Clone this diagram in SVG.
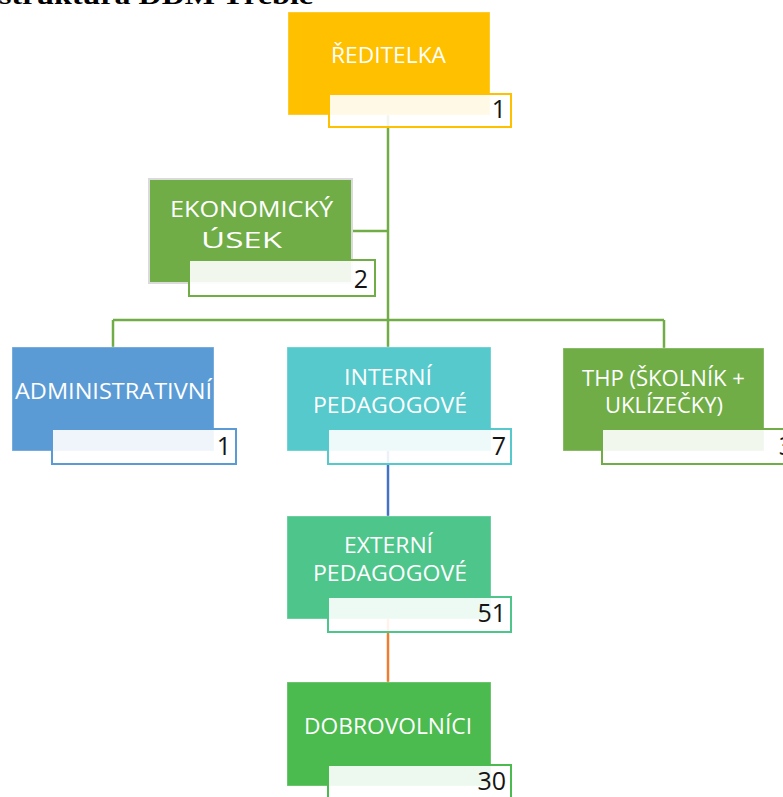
<svg xmlns="http://www.w3.org/2000/svg" width="783" height="797" viewBox="0 0 783 797">
<style>
.title{font-family:"Liberation Serif","Times New Roman",serif;font-weight:bold;font-size:26px;fill:#000}
.lbl{font-family:"Open Sans","Noto Sans",sans-serif;font-size:22px;fill:#fff}
.cnt{font-family:"Open Sans","Noto Sans",sans-serif;font-size:25px;fill:#151515;text-anchor:end}
.cbox{fill:#fff;fill-opacity:0.9;stroke-width:2}
.node{stroke:#fff;stroke-opacity:0.35;stroke-width:1}
.conn{fill:none;stroke-width:2.5}
</style>
<rect width="783" height="797" fill="#fff"/>
<text class="title" x="-1" y="4" textLength="314" lengthAdjust="spacingAndGlyphs">struktura DDM Třebíč</text>
<g id="connectors">
<path class="conn" stroke="#70AD47" d="M388 115V347M353 231H388M113 320H664M113 320V347M664 320V348"/>
<path class="conn" stroke="#4472C4" d="M388 451V516"/>
<path class="conn" stroke="#ED7D31" d="M388 619V682"/>
</g>
<g id="reditelka">
<rect class="node" x="288" y="12" width="202" height="103" fill="#FFC000"/>
<text class="lbl" x="331" y="63" textLength="115" lengthAdjust="spacingAndGlyphs">ŘEDITELKA</text>
<rect class="cbox" x="329" y="94" width="182" height="33" stroke="#FFC000"/>
<text class="cnt" x="506" y="118">1</text>
</g>
<g id="ekonomicky">
<rect x="149" y="179" width="203" height="104" fill="#70AD47" stroke="#DADADA" stroke-width="2"/>
<text class="lbl" x="170" y="216.5" textLength="163" lengthAdjust="spacingAndGlyphs">EKONOMICKÝ</text>
<text class="lbl" x="201" y="248" textLength="81" lengthAdjust="spacingAndGlyphs">ÚSEK</text>
<rect class="cbox" x="189" y="260" width="186" height="36" stroke="#70AD47"/>
<text class="cnt" x="368" y="288">2</text>
</g>
<g id="administrativni">
<rect class="node" x="12" y="347" width="202" height="104" fill="#5B9BD5"/>
<text class="lbl" x="15" y="399" textLength="197" lengthAdjust="spacingAndGlyphs">ADMINISTRATIVNÍ</text>
<rect class="cbox" x="52" y="429" width="184" height="35" stroke="#5B9BD5"/>
<text class="cnt" x="231" y="455">1</text>
</g>
<g id="interni">
<rect class="node" x="287" y="347" width="204" height="104" fill="#55C9CC"/>
<text class="lbl" x="344" y="385" textLength="88" lengthAdjust="spacingAndGlyphs">INTERNÍ</text>
<text class="lbl" x="313" y="413" textLength="154" lengthAdjust="spacingAndGlyphs">PEDAGOGOVÉ</text>
<rect class="cbox" x="328" y="429" width="183" height="35" stroke="#55C9CC"/>
<text class="cnt" x="506" y="455">7</text>
</g>
<g id="thp">
<rect class="node" x="563" y="348" width="201" height="103" fill="#70AD47"/>
<text class="lbl" x="582" y="386" textLength="163" lengthAdjust="spacingAndGlyphs">THP (ŠKOLNÍK +</text>
<text class="lbl" x="605" y="413" textLength="118" lengthAdjust="spacingAndGlyphs">UKLÍZEČKY)</text>
<rect class="cbox" x="602" y="429" width="184" height="35" stroke="#70AD47"/>
<text class="cnt" x="793" y="455">3</text>
</g>
<g id="externi">
<rect class="node" x="287" y="516" width="204" height="103" fill="#4EC58B"/>
<text class="lbl" x="344" y="553" textLength="89" lengthAdjust="spacingAndGlyphs">EXTERNÍ</text>
<text class="lbl" x="313" y="581" textLength="154" lengthAdjust="spacingAndGlyphs">PEDAGOGOVÉ</text>
<rect class="cbox" x="328" y="597" width="183" height="35" stroke="#4EC58B"/>
<text class="cnt" x="506" y="622">51</text>
</g>
<g id="dobrovolnici">
<rect class="node" x="287" y="682" width="204" height="104" fill="#4BBA4F"/>
<text class="lbl" x="304" y="734" textLength="168" lengthAdjust="spacingAndGlyphs">DOBROVOLNÍCI</text>
<rect class="cbox" x="328" y="765" width="183" height="40" stroke="#4BBA4F"/>
<text class="cnt" x="506" y="790">30</text>
</g>
</svg>
